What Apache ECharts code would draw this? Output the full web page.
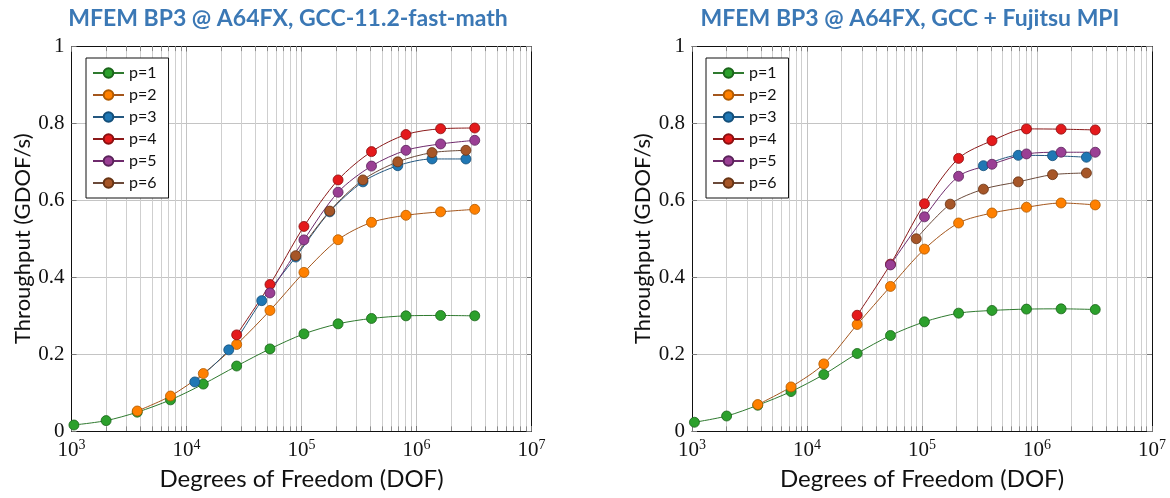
<!DOCTYPE html>
<html>
<head>
<meta charset="utf-8">
<script src="https://cdn.jsdelivr.net/npm/echarts@6/dist/echarts.min.js"></script>
<style>
html,body{margin:0;padding:0;background:#fff;}
#c{width:1170px;height:498px;}
</style>
</head>
<body>
<div id="c"></div>
<script>
// ---- data ----
const DOF_A = [1050, 2000, 3730, 7260, 14000, 27300, 53200, 105000, 208000, 406000, 810000, 1620000, 3210000];
const DOF_B = [11800, 23300, 45100, 89100, 176000, 342000, 687000, 1365000, 2690000];

const SERIES_NAMES = ['p=1', 'p=2', 'p=3', 'p=4', 'p=5', 'p=6'];
const TITLES = ['MFEM BP3 @ A64FX, GCC-11.2-fast-math', 'MFEM BP3 @ A64FX, GCC + Fujitsu MPI'];
const X_NAME = 'Degrees of Freedom (DOF)';
const Y_NAME = 'Throughput (GDOF/s)';
const X_TICK_EXPONENTS = [3, 4, 5, 6, 7];
const Y_TICKS = [0, 0.2, 0.4, 0.6, 0.8, 1];

// left chart (GCC-11.2-fast-math)
const L_P1_X = DOF_A;
const L_P1 = [0.0156, 0.027, 0.049, 0.081, 0.122, 0.169, 0.2135, 0.2526, 0.2787, 0.2927, 0.2995, 0.3005, 0.2995];
const L_P2_X = DOF_A.slice(2);
const L_P2 = [0.052, 0.091, 0.1494, 0.225, 0.3135, 0.4125, 0.4975, 0.5426, 0.561, 0.570, 0.5765];
const L_P3_X = DOF_B;
const L_P3 = [0.1276, 0.211, 0.339, 0.4525, 0.570, 0.648, 0.690, 0.7075, 0.7075];
const L_P4_X = DOF_A.slice(5);
const L_P4 = [0.25, 0.381, 0.532, 0.653, 0.7266, 0.771, 0.786, 0.788];
const L_P5_X = DOF_A.slice(6);
const L_P5 = [0.359, 0.497, 0.621, 0.689, 0.730, 0.7466, 0.756];
const L_P6_X = DOF_B.slice(3);
const L_P6 = [0.456, 0.572, 0.653, 0.700, 0.724, 0.730];

// right chart (GCC + Fujitsu MPI)
const R_P1_X = DOF_A;
const R_P1 = [0.0227, 0.039, 0.067, 0.1026, 0.147, 0.2016, 0.2484, 0.2839, 0.3065, 0.3135, 0.317, 0.3177, 0.316];
const R_P2_X = DOF_A.slice(2);
const R_P2 = [0.0687, 0.1146, 0.1745, 0.277, 0.376, 0.473, 0.541, 0.567, 0.582, 0.593, 0.588];
const R_P3_X = DOF_B.slice(5);
const R_P3 = [0.690, 0.717, 0.716, 0.712];
const R_P4_X = DOF_A.slice(5);
const R_P4 = [0.301, 0.434, 0.591, 0.709, 0.755, 0.7857, 0.785, 0.783];
const R_P5_X = DOF_A.slice(6);
const R_P5 = [0.432, 0.557, 0.6625, 0.6937, 0.7206, 0.725, 0.725];
const R_P6_X = DOF_B.slice(3);
const R_P6 = [0.50, 0.590, 0.629, 0.648, 0.6667, 0.671];

// ---- styles ----
const STY = [
  {fill: '#2ca02c', border: '#1b641b', line: '#2f7a2f'},
  {fill: '#ff8000', border: '#b05a00', line: '#a4561c'},
  {fill: '#1f77b4', border: '#144f7a', line: '#23577f'},
  {fill: '#e41a1c', border: '#8a0f10', line: '#8b1a1a'},
  {fill: '#9a3f94', border: '#5a235a', line: '#6e2a6c'},
  {fill: '#a65628', border: '#673415', line: '#6b4a3a'}
];

const SANS = 'Lato, "Open Sans", sans-serif';
const SERIF = '"Liberation Serif", "DejaVu Serif", serif';

// minor log grid values (axis decoration)
const MINOR = [];
for (let e = 3; e < 7; e++) for (let m = 2; m <= 9; m++) MINOR.push(m * Math.pow(10, e));

const GRIDS = [
  {left: 71.5, top: 46.5, width: 460, height: 384.5},
  {left: 692, top: 46.5, width: 460, height: 384.5}
];

function mk(name, xs, ys, g, k) {
  const s = STY[k];
  return {
    name: name, type: 'line', xAxisIndex: g * 2, yAxisIndex: g * 2,
    data: ys.map((v, i) => [xs[i], v]),
    smooth: 0.3, symbol: 'circle', symbolSize: 10, showSymbol: true,
    lineStyle: {width: 1, color: s.line},
    itemStyle: {color: s.fill, borderColor: s.border, borderWidth: 0.8},
    z: 3, animation: false
  };
}

function decoSeries(g) {
  const data = [];
  MINOR.forEach(v => data.push({xAxis: v, lineStyle: {color: '#cfcfcf', width: 1, type: 'solid'}}));
  MINOR.forEach(v => {
    data.push([{coord: [v, 0]}, {coord: [v, 0.012]}]);
    data.push([{coord: [v, 1]}, {coord: [v, 0.988]}]);
  });
  return {
    name: '_deco' + g, type: 'line', xAxisIndex: g * 2, yAxisIndex: g * 2,
    data: [], silent: true, animation: false, z: 1,
    markLine: {
      silent: true, animation: false, symbol: ['none', 'none'], z: 1,
      label: {show: false},
      lineStyle: {color: '#8a8a8a', width: 1, type: 'solid'},
      emphasis: {disabled: true},
      data: data
    }
  };
}

const xAxes = [], yAxes = [];
GRIDS.forEach((gr, g) => {
  xAxes.push({
    gridIndex: g, type: 'log', logBase: 10, min: 1000, max: 10000000, position: 'bottom',
    name: X_NAME, nameLocation: 'middle', nameGap: 36,
    nameTextStyle: {fontFamily: SANS, fontSize: 24, color: '#111'},
    axisLine: {show: true, onZero: false, lineStyle: {color: '#111', width: 1}},
    axisTick: {show: true, inside: true, length: 5, lineStyle: {color: '#777'}},
    axisLabel: {
      margin: 7, color: '#111', fontFamily: SERIF, fontSize: 21,
      formatter: v => {
        const e = Math.round(Math.log10(v));
        return X_TICK_EXPONENTS.indexOf(e) >= 0 ? '10{sup|' + e + '}' : '';
      },
      rich: {sup: {fontFamily: SERIF, fontSize: 14, color: '#111', padding: [0, 0, 10, 0]}}
    },
    splitLine: {show: true, lineStyle: {color: '#c4c4c4', width: 1}}
  });
  xAxes.push({
    gridIndex: g, type: 'log', logBase: 10, min: 1000, max: 10000000, position: 'top',
    axisLine: {show: true, onZero: false, lineStyle: {color: '#111', width: 1}},
    axisTick: {show: true, inside: true, length: 5, lineStyle: {color: '#777'}},
    axisLabel: {show: false}, splitLine: {show: false}
  });
  yAxes.push({
    gridIndex: g, type: 'value', min: 0, max: 1, interval: 0.2, position: 'left',
    name: Y_NAME, nameLocation: 'middle', nameGap: 38, nameRotate: 90,
    nameTextStyle: {fontFamily: SANS, fontSize: 22, color: '#111'},
    axisLine: {show: true, onZero: false, lineStyle: {color: '#111', width: 1}},
    axisTick: {show: true, inside: true, length: 5, lineStyle: {color: '#777'}},
    axisLabel: {
      margin: 7, color: '#111', fontFamily: SERIF, fontSize: 21,
      formatter: v => (Y_TICKS.indexOf(+v.toFixed(1)) >= 0 ? (v === 0 ? '0' : v === 1 ? '1' : v.toFixed(1)) : '')
    },
    splitLine: {show: true, lineStyle: {color: '#c4c4c4', width: 1}}
  });
  yAxes.push({
    gridIndex: g, type: 'value', min: 0, max: 1, interval: 0.2, position: 'right',
    axisLine: {show: true, onZero: false, lineStyle: {color: '#111', width: 1}},
    axisTick: {show: true, inside: true, length: 5, lineStyle: {color: '#777'}},
    axisLabel: {show: false}, splitLine: {show: false}
  });
});

const series = [
  decoSeries(0), decoSeries(1),
  mk(SERIES_NAMES[0], L_P1_X, L_P1, 0, 0),
  mk(SERIES_NAMES[1], L_P2_X, L_P2, 0, 1),
  mk(SERIES_NAMES[2], L_P3_X, L_P3, 0, 2),
  mk(SERIES_NAMES[3], L_P4_X, L_P4, 0, 3),
  mk(SERIES_NAMES[4], L_P5_X, L_P5, 0, 4),
  mk(SERIES_NAMES[5], L_P6_X, L_P6, 0, 5),
  mk(SERIES_NAMES[0], R_P1_X, R_P1, 1, 0),
  mk(SERIES_NAMES[1], R_P2_X, R_P2, 1, 1),
  mk(SERIES_NAMES[2], R_P3_X, R_P3, 1, 2),
  mk(SERIES_NAMES[3], R_P4_X, R_P4, 1, 3),
  mk(SERIES_NAMES[4], R_P5_X, R_P5, 1, 4),
  mk(SERIES_NAMES[5], R_P6_X, R_P6, 1, 5)
];

function legend(left) {
  return {
    data: SERIES_NAMES, orient: 'vertical', left: left, top: 58,
    backgroundColor: '#fff', borderColor: '#111', borderWidth: 1, borderRadius: 0,
    padding: [7, 12, 7, 6], itemGap: 6, itemWidth: 31, itemHeight: 12,
    textStyle: {fontFamily: SANS, fontSize: 16, color: '#111', lineHeight: 16},
    selectedMode: false, z: 10
  };
}

const chart = echarts.init(document.getElementById('c'), null, {renderer: 'canvas'});
chart.setOption({
  animation: false,
  backgroundColor: '#fff',
  title: [
    {text: TITLES[0], left: 283, top: 2, textAlign: 'center',
     textStyle: {fontFamily: SANS, fontSize: 23, fontWeight: 'bold', color: '#3b78b5'}},
    {text: TITLES[1], left: 905, top: 2, textAlign: 'center',
     textStyle: {fontFamily: SANS, fontSize: 23, fontWeight: 'bold', color: '#3b78b5'}}
  ],
  legend: [legend(86), legend(706)],
  grid: GRIDS.map(g => Object.assign({containLabel: false, show: false}, g)),
  xAxis: xAxes,
  yAxis: yAxes,
  series: series
});
</script>
</body>
</html>
